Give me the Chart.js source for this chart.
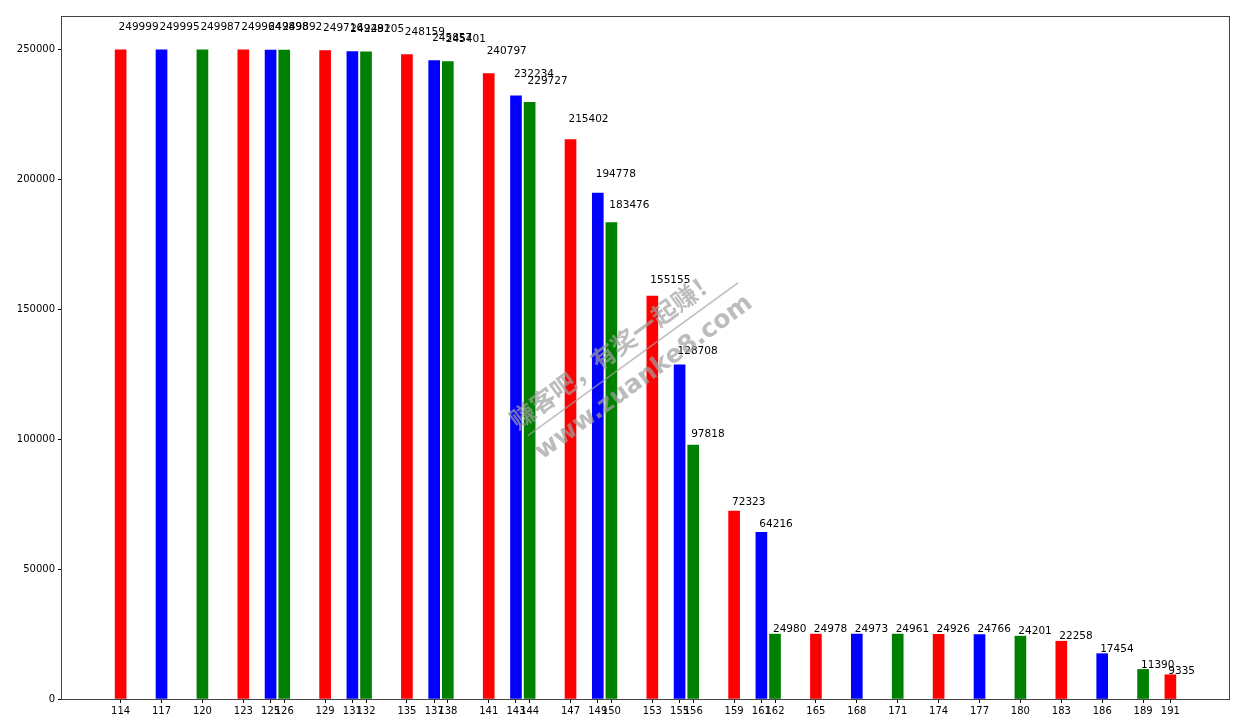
<!DOCTYPE html>
<html>
<head>
<meta charset="utf-8">
<script src="https://cdn.jsdelivr.net/npm/chart.js@4.4.0/dist/chart.umd.min.js"></script>
<style>
    html, body { margin: 0; padding: 0; background: #fff; }
    #wrap { width: 1256px; height: 720px; }
</style>
</head>
<body>
<div id="wrap"><canvas id="grafico"></canvas></div>
<script>
const categories = [114, 117, 120, 123, 125, 126, 129, 131, 132, 135, 137, 138, 141, 143, 144, 147, 149,
    150, 153, 155, 156, 159, 161, 162, 165, 168, 171, 174, 177, 180, 183, 186, 189, 191];
const values = [249999, 249995, 249987, 249964, 249898, 249892, 249716, 249281, 249205, 248159, 245857,
    245401, 240797, 232234, 229727, 215402, 194778, 183476, 155155, 128708, 97818, 72323, 64216,
    24980, 24978, 24973, 24961, 24926, 24766, 24201, 22258, 17454, 11390, 9335];
const yTicks = [0, 50000, 100000, 150000, 200000, 250000];
const palette = ['#ff0000', '#0000ff', '#008000'];

const fonte = { family: 'DejaVu Sans', size: 10 };

// rotulos em cima de cada barra
const rotulos = {
    id: 'rotulos',
    afterDatasetsDraw(chart) {
        const ctx = chart.ctx;
        const xs = chart.scales.x;
        const ys = chart.scales.y;
        ctx.save();
        ctx.font = '10.5px "DejaVu Sans"';
        ctx.fillStyle = '#000';
        ctx.textAlign = 'left';
        ctx.textBaseline = 'bottom';
        for (let i = 0; i < categories.length; i++) {
            const px = xs.getPixelForValue(categories[i] - 0.15);
            const py = ys.getPixelForValue(values[i] * 1.03) + 2;
            ctx.fillText(String(values[i]), px, py);
        }
        ctx.restore();
    }
};

// moldura e marca d'agua
const moldura = {
    id: 'moldura',
    afterDraw(chart) {
        const ctx = chart.ctx;
        const a = chart.chartArea;
        ctx.save();
        ctx.strokeStyle = '#444';
        ctx.lineWidth = 1;
        ctx.strokeRect(Math.round(a.left) - 0.5, Math.round(a.top) + 0.5,
            Math.round(a.right - a.left) + 1, Math.round(a.bottom - a.top));

        ctx.translate(625, 365);
        ctx.rotate(-36 * Math.PI / 180);
        ctx.fillStyle = 'rgba(160,160,160,0.7)';
        ctx.textAlign = 'center';
        ctx.textBaseline = 'alphabetic';
        ctx.font = 'bold 25px "Noto Sans CJK SC"';
        ctx.fillText('赚客吧，有奖一起赚！', 0, -10);
        ctx.strokeStyle = 'rgba(160,160,160,0.7)';
        ctx.lineWidth = 1.5;
        ctx.beginPath();
        ctx.moveTo(-120, 0);
        ctx.lineTo(140, 0);
        ctx.stroke();
        ctx.font = 'bold 25px "DejaVu Sans"';
        ctx.fillText('www.zuanke8.com', 8, 28);
        ctx.restore();
    }
};

document.addEventListener('DOMContentLoaded', () => {
    const pontos = categories.map((c, i) => ({ x: c, y: values[i] }));
    const cores = categories.map((c, i) => palette[i % 3]);

    new Chart(document.getElementById('grafico').getContext('2d'), {
        type: 'bar',
        data: {
            datasets: [{
                data: pontos,
                backgroundColor: cores,
                borderWidth: 0,
                barThickness: 11
            }]
        },
        options: {
            responsive: true,
            maintainAspectRatio: false,
            animation: false,
            layout: { padding: { top: 16, right: 27, left: 0, bottom: 0 } },
            plugins: {
                legend: { display: false },
                tooltip: { enabled: false }
            },
            scales: {
                x: {
                    type: 'linear',
                    offset: false,
                    min: 109.7,
                    max: 195.3,
                    afterBuildTicks: (scale) => { scale.ticks = categories.map(v => ({ value: v })); },
                    afterFit: (scale) => { scale.height = 21; },
                    grid: { display: true, offset: false, drawOnChartArea: false, tickLength: 4, color: '#000' },
                    border: { display: false },
                    ticks: {
                        autoSkip: false,
                        maxRotation: 0,
                        padding: 2,
                        color: '#000',
                        font: fonte,
                        callback: (v) => String(v)
                    }
                },
                y: {
                    min: 0,
                    max: 263000,
                    afterBuildTicks: (scale) => { scale.ticks = yTicks.map(v => ({ value: v })); },
                    afterFit: (scale) => { scale.width = 62; },
                    grid: { display: true, drawOnChartArea: false, tickLength: 4, color: '#000' },
                    border: { display: false },
                    ticks: {
                        padding: 3,
                        color: '#000',
                        font: fonte,
                        callback: (v) => String(v)
                    }
                }
            }
        },
        plugins: [rotulos, moldura]
    });
});
</script>
</body>
</html>
